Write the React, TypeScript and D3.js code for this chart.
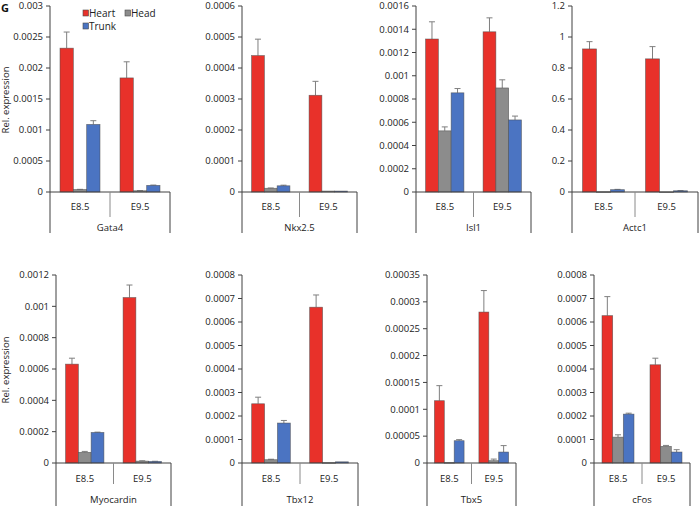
import React from 'react';
import * as d3 from 'd3';

// Relative expression (qPCR), per gene: [E8.5, E9.5]
const genes = ['Gata4', 'Nkx2.5', 'Isl1', 'Actc1', 'Myocardin', 'Tbx12', 'Tbx5', 'cFos'];
const stages = ['E8.5', 'E9.5'];
const seriesNames = ['Heart', 'Head', 'Trunk'];

const heartMean = [
  [0.00232, 0.00184], [0.00044, 0.000312], [0.001316, 0.001378], [0.923, 0.859],
  [0.000631, 0.001056], [0.000252, 0.000663], [0.000116, 0.000281], [0.000627, 0.000418],
];
const heartErr = [
  [0.00026, 0.00026], [0.000053, 0.000045], [0.000148, 0.00012], [0.047, 0.079],
  [0.000038, 0.00008], [0.000028, 0.000052], [0.000028, 0.00004], [0.000081, 0.000028],
];
const headMean = [
  [0.00004, 0.00002], [0.000012, 0.000003], [0.000526, 0.000895], [0.002, 0.001],
  [0.000068, 0.000012], [0.000014, 0.000002], [0.000001, 0.0000043], [0.00011, 0.0000708],
];
const headErr = [
  [0.000003, 0.000002], [0.000001, 0], [0.000034, 0.00007], [0, 0],
  [0.000006, 0.000002], [0.000002, 0], [0, 0.000003], [0.00001, 0.000004],
];
const trunkMean = [
  [0.00109, 0.000107], [0.00002, 0.000003], [0.000853, 0.00062], [0.015, 0.008],
  [0.000195, 0.00001], [0.00017, 0.000005], [0.0000415, 0.0000204], [0.000208, 0.0000467],
];
const trunkErr = [
  [0.00006, 0.000005], [0.000002, 0], [0.000037, 0.000033], [0.002, 0.001],
  [0.000002, 0.000001], [0.000011, 0], [0.000002, 0.000012], [0.000004, 0.00001],
];
const yTicks = [
  [0, 0.0005, 0.001, 0.0015, 0.002, 0.0025, 0.003],
  [0, 0.0001, 0.0002, 0.0003, 0.0004, 0.0005, 0.0006],
  [0, 0.0002, 0.0004, 0.0006, 0.0008, 0.001, 0.0012, 0.0014, 0.0016],
  [0, 0.2, 0.4, 0.6, 0.8, 1, 1.2],
  [0, 0.0002, 0.0004, 0.0006, 0.0008, 0.001, 0.0012],
  [0, 0.0001, 0.0002, 0.0003, 0.0004, 0.0005, 0.0006, 0.0007, 0.0008],
  [0, 0.00005, 0.0001, 0.00015, 0.0002, 0.00025, 0.0003, 0.00035],
  [0, 0.0001, 0.0002, 0.0003, 0.0004, 0.0005, 0.0006, 0.0007, 0.0008],
];

const means = [heartMean, headMean, trunkMean];
const errs = [heartErr, headErr, trunkErr];
const colors = ['#E8312A', '#8C8C8C', '#4B74C2'];

// panel frames in the 700x506 picture
const frames = [
  { x0: 50, x1: 170, top: 6, zero: 192, sep: 217, bottom: 233, lab1: 207, lab2: 228 },
  { x0: 242, x1: 357, top: 6, zero: 192, sep: 217, bottom: 233, lab1: 207, lab2: 228 },
  { x0: 416, x1: 531, top: 6, zero: 192, sep: 217, bottom: 233, lab1: 207, lab2: 228 },
  { x0: 572, x1: 698, top: 6, zero: 192, sep: 217, bottom: 233, lab1: 207, lab2: 228 },
  { x0: 56, x1: 171, top: 275, zero: 463, sep: 484, bottom: 510, lab1: 479, lab2: 500 },
  { x0: 242, x1: 358, top: 275, zero: 463, sep: 484, bottom: 510, lab1: 479, lab2: 500 },
  { x0: 427, x1: 516, top: 275, zero: 463, sep: 484, bottom: 510, lab1: 479, lab2: 500 },
  { x0: 594, x1: 690, top: 275, zero: 463, sep: 484, bottom: 510, lab1: 479, lab2: 500 },
];

const FONT = '"Open Sans", "Liberation Sans", sans-serif';
const AXIS = '#404040';

function Panel({ gi }: { gi: number }) {
  const f = frames[gi];
  const ticks = yTicks[gi];
  const y = d3.scaleLinear().domain([0, ticks[ticks.length - 1]]).range([f.zero, f.top]);
  const x = d3.scaleBand<string>().domain(stages).range([f.x0, f.x1]).paddingInner(0).paddingOuter(0);
  const xs = d3.scaleBand<string>().domain(seriesNames).range([0, x.bandwidth()]).paddingInner(0).paddingOuter(0.75);
  const bw = xs.bandwidth();

  return (
    <g>
      {/* bars */}
      {stages.map((st, si) =>
        seriesNames.map((sn, k) => {
          const v = means[k][gi][si];
          const e = errs[k][gi][si];
          const bx = (x(st) as number) + (xs(sn) as number);
          const cx = bx + bw / 2;
          return (
            <g key={st + sn}>
              {e > 0 && (
                <g stroke="#7f7f7f" strokeWidth={1}>
                  <line x1={cx} x2={cx} y1={y(v)} y2={y(v + e)} />
                  <line x1={cx - 3} x2={cx + 3} y1={y(v + e)} y2={y(v + e)} />
                </g>
              )}
              <rect x={bx} width={bw} y={y(v)} height={Math.max(0.8, f.zero - y(v))}
                fill={colors[k]} stroke="#4a4a4a" strokeOpacity={0.7} strokeWidth={0.7} />
            </g>
          );
        })
      )}
      {/* y axis */}
      <line x1={f.x0} x2={f.x0} y1={f.top} y2={f.bottom} stroke={AXIS} />
      {ticks.map(t => (
        <g key={t}>
          <line x1={f.x0 - 4} x2={f.x0} y1={y(t)} y2={y(t)} stroke={AXIS} />
          <text x={f.x0 - 7} y={y(t)} dy="0.35em" textAnchor="end" fontSize={9.5} fontFamily={FONT} fill="#222">
            {String(t)}
          </text>
        </g>
      ))}
      {/* category axis */}
      <line x1={f.x0} x2={f.x1} y1={f.zero} y2={f.zero} stroke={AXIS} />
      <line x1={f.x1} x2={f.x1} y1={f.zero} y2={f.bottom} stroke={AXIS} />
      <line x1={x(stages[1])} x2={x(stages[1])} y1={f.zero} y2={f.sep} stroke="#8a8a8a" />
      {stages.map(st => (
        <text key={st} x={(x(st) as number) + x.bandwidth() / 2} y={f.lab1} dy="0.35em" textAnchor="middle"
          fontSize={9.5} fontFamily={FONT} fill="#222">{st}</text>
      ))}
      <text x={(f.x0 + f.x1) / 2} y={f.lab2} dy="0.35em" textAnchor="middle" fontSize={9.5} fontFamily={FONT} fill="#222">
        {genes[gi]}
      </text>
    </g>
  );
}

export default function App() {
  const legend = [
    { name: seriesNames[0], x: 83, y: 13 },
    { name: seriesNames[1], x: 125, y: 13 },
    { name: seriesNames[2], x: 83, y: 26 },
  ];
  return (
    <svg width={700} height={506} style={{ position: 'absolute', left: 0, top: 0, background: '#fff' }}>
      <rect width={700} height={506} fill="#fff" />
      {genes.map((g, i) => <Panel key={g} gi={i} />)}
      <text x={1} y={8.5} dy="0.35em" fontSize={11} fontWeight="bold" fontFamily={FONT} fill="#111">G</text>
      {[100, 370].map(cy => (
        <text key={cy} transform={`translate(6,${cy}) rotate(-90)`} dy="0.35em" textAnchor="middle"
          fontSize={9.5} fontFamily={FONT} fill="#222">Rel. expression</text>
      ))}
      {legend.map((l, i) => (
        <g key={l.name}>
          <rect x={l.x} y={l.y - 3} width={5.5} height={6} fill={colors[i]} stroke="#4a4a4a" strokeWidth={0.6} />
          <text x={l.x + 6} y={l.y} dy="0.35em" fontSize={10} fontFamily={FONT} fill="#222">{l.name}</text>
        </g>
      ))}
    </svg>
  );
}
